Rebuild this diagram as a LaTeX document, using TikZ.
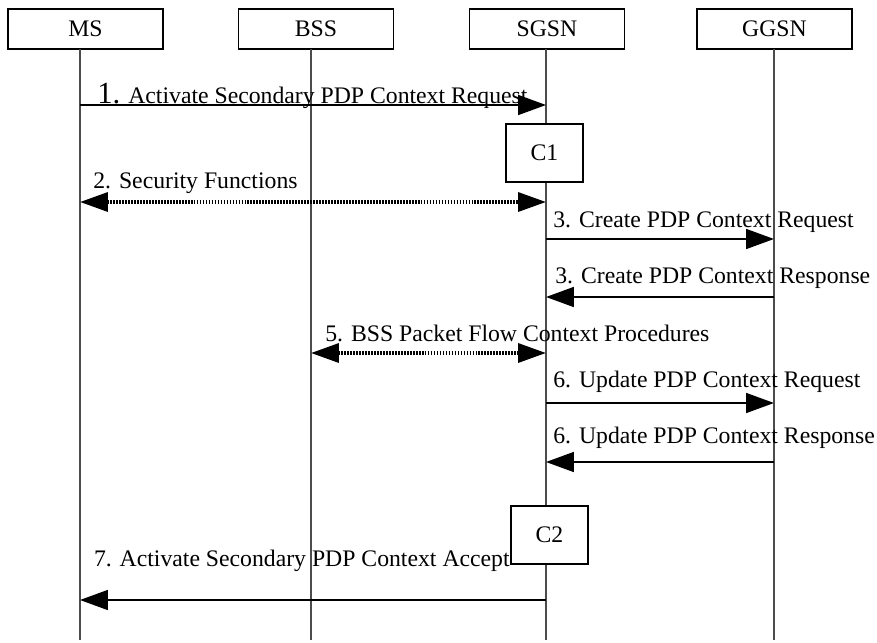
\documentclass[tikz,border=0pt]{standalone}
\usepackage{fontspec}
\setmainfont{Liberation Serif}
\usetikzlibrary{arrows.meta, positioning}

\begin{document}
\begin{tikzpicture}[
    x=0.02cm, y=-0.02cm,
    font=\fontsize{13.5}{16}\selectfont,
    entity/.style={draw, line width=1pt, minimum width=3.1cm, minimum height=0.8cm, inner sep=0pt},
    cbox/.style={draw, fill=white, line width=1pt, minimum width=1.54cm, minimum height=1.16cm, inner sep=0pt},
    lifeline/.style={line width=0.6pt, black!70},
    msg/.style={line width=1pt, -{Triangle[length=0.56cm, width=0.4cm]}},
    proc/.style={line width=2pt, dash pattern=on 1pt off 0.7pt,
        {Triangle[length=0.56cm, width=0.38cm]}-{Triangle[length=0.56cm, width=0.38cm]}},
    lbl/.style={anchor=base west, inner sep=0pt},
]
    \useasboundingbox (0,0) rectangle (877,643);

    % entities
    \node[entity] (ms) at (85.5,29) {MS};
    \node[entity] (bss) at (316,29) {BSS};
    \node[entity] (sgsn) at (547,29) {SGSN};
    \node[entity] (ggsn) at (774.5,29) {GGSN};

    % lifelines
    \coordinate (msl) at (80,49);
    \coordinate (bssl) at (311,49);
    \coordinate (sgsnl) at (546,49);
    \coordinate (ggsnl) at (774,49);
    \foreach \l in {msl, bssl, sgsnl, ggsnl}
        \draw[lifeline] (\l) -- (\l |- 0,640);

    % 1. request
    \draw[msg] (msl |- 0,105) -- (sgsnl |- 0,105);
    \node[lbl] (m1) at (97,103) {{\fontsize{17.5}{18}\selectfont 1.} Activate Secondary PDP Context Request};

    \node[cbox] (c1) at (544.5,153) {C1};

    % 2. security
    \draw[proc] (msl |- 0,202) -- (sgsnl |- 0,202);
    \node[lbl] (m2) at (93,188) {2. Security Functions};

    % 3. create
    \draw[msg] (sgsnl |- 0,239) -- (ggsnl |- 0,239);
    \node[lbl] (m3a) at (553,227) {3. Create PDP Context Request};
    \draw[msg] (ggsnl |- 0,297) -- (sgsnl |- 0,297);
    \node[lbl] (m3b) at (555,283) {3. Create PDP Context Response};

    % 5. packet flow context
    \draw[proc] (bssl |- 0,353) -- (sgsnl |- 0,353);
    \node[lbl] (m5) at (325,341) {5. BSS Packet Flow Context Procedures};

    % 6. update
    \draw[msg] (sgsnl |- 0,403) -- (ggsnl |- 0,403);
    \node[lbl] (m6a) at (553,387) {6. Update PDP Context Request};
    \draw[msg] (ggsnl |- 0,462) -- (sgsnl |- 0,462);
    \node[lbl] (m6b) at (553,443) {6. Update PDP Context Response};

    \node[cbox] (c2) at (549.5,535) {C2};

    % 7. accept
    \draw[msg] (sgsnl |- 0,600) -- (msl |- 0,600);
    \node[lbl, anchor=base east] (m7) at (510,566) {7. Activate Secondary PDP Context Accept};
\end{tikzpicture}
\end{document}
